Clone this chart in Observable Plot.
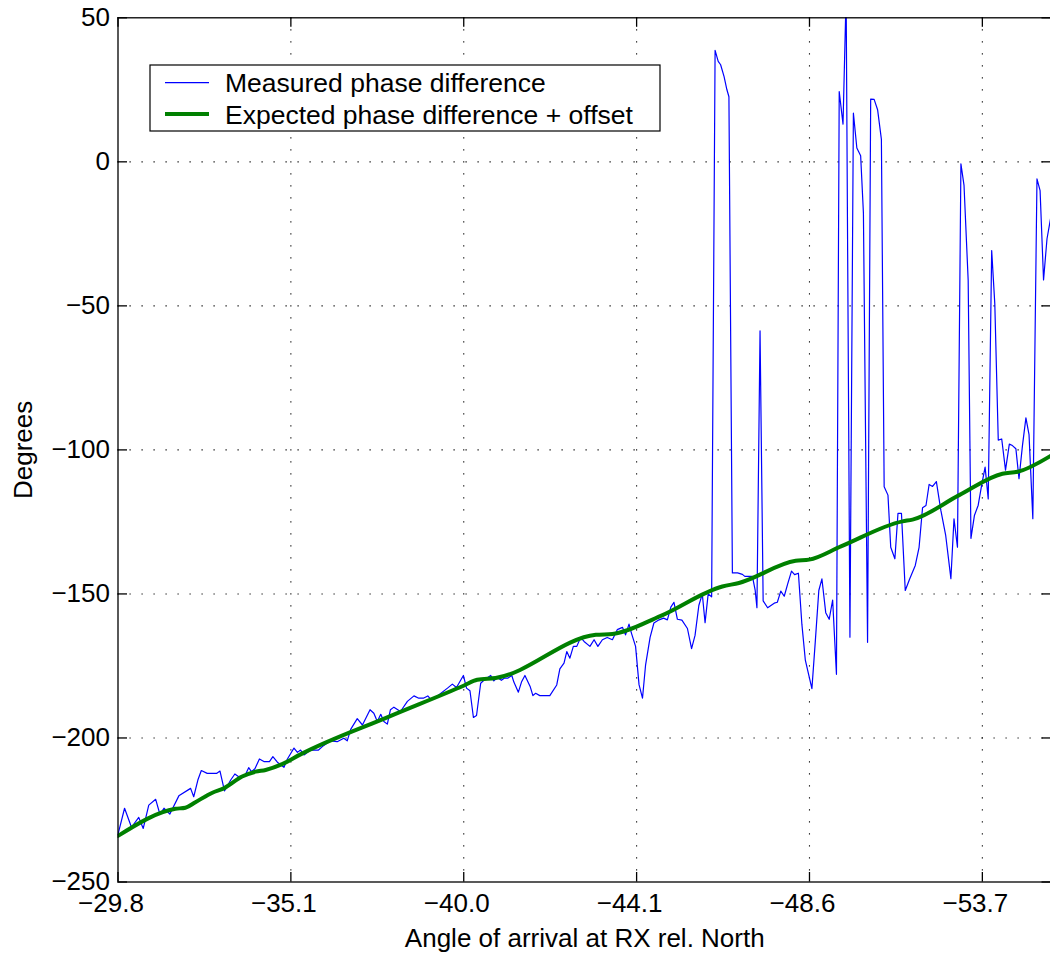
<!DOCTYPE html>
<html>
<head>
<meta charset="utf-8">
<script src="https://cdn.jsdelivr.net/npm/d3@7"></script>
<script src="https://cdn.jsdelivr.net/npm/@observablehq/plot@0.6"></script>
<style>
  html, body { margin: 0; padding: 0; background: #fff; }
  #chart svg { display: block; }
</style>
</head>
<body>
<div id="chart"></div>
<script>
// Measured phase difference: sample index along the track, degrees
const measuredIdx = [
  0, 1.9, 3.9, 6.0, 7.3, 8.9, 10.9, 12.1, 13.3, 15.0, 17.6, 21.0, 21.9, 23.1, 24.1, 25.8, 28.5, 29.5, 30.8, 32.6,
  33.8, 34.8, 36.7, 37.8, 38.6, 39.6, 40.9, 42.2, 43.8, 44.8, 46.1, 48.0, 49.0, 50.9, 51.9, 52.8, 53.8, 55.7, 58.0, 59.1,
  61.5, 63.4, 65.3, 66.3, 67.3, 69.2, 70.7, 72.9, 74.0, 75.0, 76.0, 76.9, 77.9, 78.8, 79.8, 81.7, 83.7, 85.6, 87.0, 88.3,
  89.6, 90.6, 92.2, 95.3, 96.7, 97.9, 99.9, 100.8, 101.8, 102.8, 103.7, 104.9, 106.3, 107.8, 108.7, 109.7, 110.9, 111.8, 112.8, 113.9,
  114.5, 115.8, 116.7, 117.7, 119.2, 120.0, 120.8, 122.0, 124.9, 126.9, 127.8, 129.0, 129.8, 130.7, 131.7, 132.7, 133.8, 134.8, 136.5, 137.7,
  138.8, 140.1, 141.5, 143.0, 144.4, 145.9, 146.8, 147.8, 148.5, 149.7, 150.7, 151.7, 152.6, 153.9, 155.0, 156.5, 157.8, 158.9, 159.9, 160.8,
  161.8, 163.1, 164.7, 165.9, 166.9, 168.0, 169.0, 169.8, 170.7, 171.7, 172.7, 173.6, 174.3, 175.3, 176.1, 176.7, 177.7, 179.2, 180.6, 181.3,
  183.5, 184.3, 184.8, 185.7, 186.6, 187.9, 189.8, 190.7, 191.7, 192.7, 193.7, 194.8, 195.7, 196.8, 197.8, 198.8, 199.7, 200.7, 201.7, 202.7,
  203.6, 204.7, 205.7, 206.7, 207.8, 208.6, 209.7, 210.6, 211.7, 212.7, 213.7, 214.8, 215.6, 216.8, 217.7, 218.7, 219.7, 220.8, 221.6, 222.7,
  223.5, 224.7, 225.6, 226.6, 227.7, 229.0, 230.6, 231.7, 232.7, 233.7, 234.6, 235.6, 236.7, 238.0, 239.4, 240.9, 241.8, 242.8, 243.8, 244.7,
  245.9, 246.7, 247.7, 248.8, 249.9, 250.8, 251.7, 252.7, 253.6, 254.6, 255.6, 256.7, 257.8, 258.7, 259.7, 260.6, 261.6, 262.6, 263.5, 264.6,
  265.8, 266.7, 267.7, 268.7, 270
];
const measuredDeg = [
  -233.5, -224.4, -231.0, -227.6, -231.4, -223.3, -221.3, -226.4, -224.4, -226.4, -220.1, -217.5, -220.4, -214.6, -211.3, -212.3, -212.3, -211.5, -218.4, -214.6,
  -212.5, -213.4, -213.1, -210.3, -211.7, -210.7, -207.3, -208.2, -208.2, -206.5, -208.4, -210.2, -207.3, -203.5, -205.0, -204.2, -205.9, -204.2, -204.2, -203.0,
  -201.0, -201.3, -200.1, -201.0, -197.0, -193.3, -195.5, -190.2, -191.4, -194.3, -191.8, -194.3, -195.2, -190.2, -189.3, -190.8, -187.3, -185.4, -186.2, -186.2,
  -185.4, -186.8, -185.6, -182.7, -181.3, -182.5, -178.3, -182.7, -183.6, -192.9, -192.2, -181.0, -179.5, -178.3, -180.2, -179.0, -180.0, -179.2, -179.2, -178.3,
  -180.6, -184.1, -180.6, -178.3, -182.1, -185.3, -184.5, -185.3, -185.3, -181.6, -176.0, -174.0, -170.0, -172.3, -168.2, -168.2, -165.1, -166.5, -168.2, -165.9,
  -168.2, -165.9, -165.1, -165.9, -162.4, -161.6, -164.2, -160.5, -163.6, -168.2, -181.5, -186.2, -174.6, -165.1, -160.1, -159.0, -158.4, -159.0, -154.6, -152.9,
  -158.8, -159.1, -162.0, -169.0, -164.4, -154.0, -150.0, -160.0, -150.0, -151.0, 38.7, 34.9, 33.7, 29.6, 25.1, 22.6, -142.7, -142.7, -143.2, -143.9,
  -143.9, -148.8, -154.8, -58.7, -152.4, -154.8, -153.2, -152.9, -149.0, -150.8, -146.5, -142.1, -143.3, -142.8, -160.5, -173.0, -177.7, -182.9, -166.2, -148.8,
  -144.8, -156.5, -158.8, -152.1, -177.9, 24.4, 13.1, 58.0, -165.0, 16.9, 4.8, 2.1, -17.8, -166.8, 21.8, 21.7, 18.1, 7.8, -112.8, -115.7,
  -133.8, -137.8, -122.0, -122.0, -148.8, -144.7, -140.1, -133.8, -120.1, -119.3, -112.0, -112.7, -111.0, -121.0, -129.7, -144.7, -123.9, -133.8, -0.7, -8.2,
  -41.2, -130.7, -122.8, -119.2, -111.5, -106.0, -117.0, -30.8, -49.3, -96.6, -96.2, -107.0, -98.0, -98.5, -99.6, -110.0, -98.5, -88.9, -94.7, -123.9,
  -5.9, -10.0, -41.0, -26.7, -17.8
];

// Expected phase difference plus constant offset
const expectedIdx = [0, 16.6, 19.5, 22.4, 27.3, 30.6, 35.9, 39.8, 42.7, 47.5, 52.8, 78.4, 100.1, 103.9, 109.2,
  138.2, 143.0, 157.0, 174.8, 179.6, 196.0, 199.9, 209.1, 226.9, 229.8, 243.3, 255.8, 260.2, 270];
const expectedDeg = [-234.0, -224.6, -224.2, -222.3, -219.0, -217.5, -213.4, -211.7, -211.1, -209.1, -205.7, -192.6, -181.8, -179.8, -179.2,
  -164.2, -163.9, -157.6, -147.4, -146.2, -138.5, -138.1, -133.5, -124.8, -124.2, -115.7, -108.3, -107.6, -101.9];

// Axis ticks: sample index with the corresponding angle of arrival
const xTickIdx = [0, 50, 100, 150, 200, 250];
const xTickLabels = ["−29.8", "−35.1", "−40.0", "−44.1", "−48.6", "−53.7"];
const yTicks = [-250, -200, -150, -100, -50, 0, 50];
const seriesNames = ["Measured phase difference", "Expected phase difference + offset"];
const seriesColors = ["#0000ff", "#008000"];
const xTitle = "Angle of arrival at RX rel. North";
const yTitle = "Degrees";

const W = 1050, H = 953;
const mL = 117.5, mR = -1, mT = 17.3, mB = 71.5;
const frameW = W - mL - mR, frameH = H - mT - mB;
const tickLen = 9.5;
const font = "'Liberation Sans', Arial, Helvetica, sans-serif";
const fs = 26;

const measured = measuredIdx.map((x, i) => ({x, y: measuredDeg[i]}));
const expected = expectedIdx.map((x, i) => ({x, y: expectedDeg[i]}));

const dotted = {stroke: "#000", strokeOpacity: 1, strokeWidth: 1.1, strokeDasharray: "1.2,10.8"};
const tickStyle = {stroke: "#000", strokeWidth: 1.3};

const chart = Plot.plot({
  width: W,
  height: H,
  marginLeft: mL,
  marginRight: mR,
  marginTop: mT,
  marginBottom: mB,
  style: {fontFamily: font, background: "#fff", color: "#000"},
  x: {domain: [0, 270], axis: null},
  y: {domain: [-250, 50], axis: null},
  marks: [
    Plot.gridX(xTickIdx.slice(1), dotted),
    Plot.gridY(yTicks.slice(1, -1), dotted),
    Plot.line(measured, {x: "x", y: "y", stroke: seriesColors[0], strokeWidth: 1.2, clip: true}),
    Plot.line(expected, {x: "x", y: "y", stroke: seriesColors[1], strokeWidth: 4, curve: "monotone-x", clip: true}),
    Plot.frame({stroke: "#000", strokeWidth: 1.3}),
    // inward tick marks on all four sides
    Plot.tickX(xTickIdx, {x: d => d, ...tickStyle, insetTop: frameH - tickLen}),
    Plot.tickX(xTickIdx, {x: d => d, ...tickStyle, insetBottom: frameH - tickLen}),
    Plot.tickY(yTicks, {y: d => d, ...tickStyle, insetRight: frameW - tickLen}),
    Plot.tickY(yTicks, {y: d => d, ...tickStyle, insetLeft: frameW - tickLen}),
    Plot.axisX(xTickIdx, {
      tickSize: 0, tickPadding: 11.5, fontSize: fs, dx: -7, label: null,
      tickFormat: d => xTickLabels[xTickIdx.indexOf(d)]
    }),
    Plot.axisY(yTicks, {tickSize: 0, tickPadding: 8, fontSize: fs, label: null}),
    Plot.text([xTitle], {text: d => d, frameAnchor: "bottom", textAnchor: "middle", lineAnchor: "bottom", dy: 64.5, fontSize: fs}),
    Plot.text([yTitle], {text: d => d, frameAnchor: "left", textAnchor: "middle", lineAnchor: "bottom", rotate: -90, dx: -86.5, fontSize: fs})
  ]
});

document.getElementById("chart").appendChild(chart);

// Legend box in the upper-left corner of the axes
const svg = d3.select(chart);
const legend = svg.append("g")
  .attr("font-family", font)
  .attr("font-size", 26.5)
  .attr("text-anchor", "start")
  .attr("fill", "#000");
legend.append("rect")
  .attr("x", 150).attr("y", 65).attr("width", 510).attr("height", 66)
  .attr("fill", "#fff").attr("stroke", "#000").attr("stroke-width", 1.2);
const rows = [{y: 82.7, w: 1.2}, {y: 114, w: 4}];
rows.forEach((r, i) => {
  legend.append("line")
    .attr("x1", 165).attr("x2", 209).attr("y1", r.y).attr("y2", r.y)
    .attr("stroke", seriesColors[i]).attr("stroke-width", r.w);
  legend.append("text")
    .attr("x", 225).attr("y", r.y + 9.6)
    .attr("text-anchor", "start")
    .text(seriesNames[i]);
});
</script>
</body>
</html>
